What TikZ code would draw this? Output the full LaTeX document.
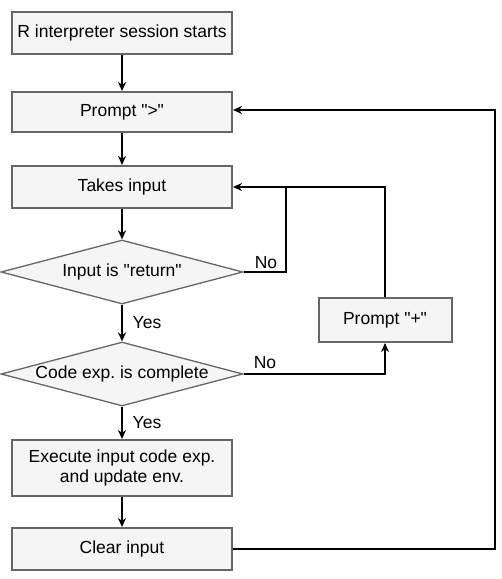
\documentclass[tikz,border=0pt]{standalone}
\usepackage{fontspec}
\setmainfont{Liberation Sans}
\usetikzlibrary{shapes.geometric,arrows.meta}
\frenchspacing
\newcommand{\qq}{\textquotedbl}
\begin{document}
\begin{tikzpicture}[x=1pt,y=-1pt,
  font=\fontsize{17.5}{20}\selectfont,
  box/.style={draw=black!60,fill=black!4,line width=2pt,minimum width=220pt,minimum height=42pt,inner sep=0pt,align=center},
  dec/.style={diamond,draw=black!60,fill=black!4,line width=1.3pt,minimum width=242pt,minimum height=64pt,shape aspect=3.8,inner sep=0pt},
  conn/.style={draw=black,line width=2pt,-{Stealth[length=9pt,width=8pt]}},
  lbl/.style={inner sep=0pt}]
\useasboundingbox (0,0) rectangle (502,579);
\node[box] (start) at (122,33) {R interpreter session starts};
\node[box,minimum height=40pt] (pg) at (122,112) {Prompt \qq\textgreater\qq};
\node[box] (take) at (122,187) {Takes input};
\node[dec] (d1) at (122,272) {Input is \qq return\qq};
\node[dec] (d2) at (122,374) {Code exp. is complete};
\node[box,minimum height=56pt] (exec) at (122,468) {Execute input code exp.\\and update env.};
\node[box] (clear) at (122,549) {Clear input};
\node[box,minimum width=133pt,minimum height=44pt] (plus) at (385,320) {Prompt \qq+\qq};
\coordinate (j1) at (286,187);
\coordinate (j2) at (495,110);
\draw[conn] (start) -- (pg);
\draw[conn] (pg) -- (take);
\draw[conn] (take) -- (d1);
\draw[conn] (d1) -- (d2);
\draw[conn] (d2) -- (exec);
\draw[conn] (exec) -- (clear);
\draw[conn] (d1.east) -| (j1) -- (take.east);
\draw[conn] (d2.east) -| (plus.south);
\draw[line width=2pt] (plus.north) |- (j1);
\draw[conn] (clear.east) -| (j2) -- (pg.east |- j2);
\node[lbl] (no1) at (266,263) {No};
\node[lbl] (no2) at (265,363) {No};
\node[lbl] (yes1) at (147,323) {Yes};
\node[lbl] (yes2) at (147,423) {Yes};
\end{tikzpicture}
\end{document}
